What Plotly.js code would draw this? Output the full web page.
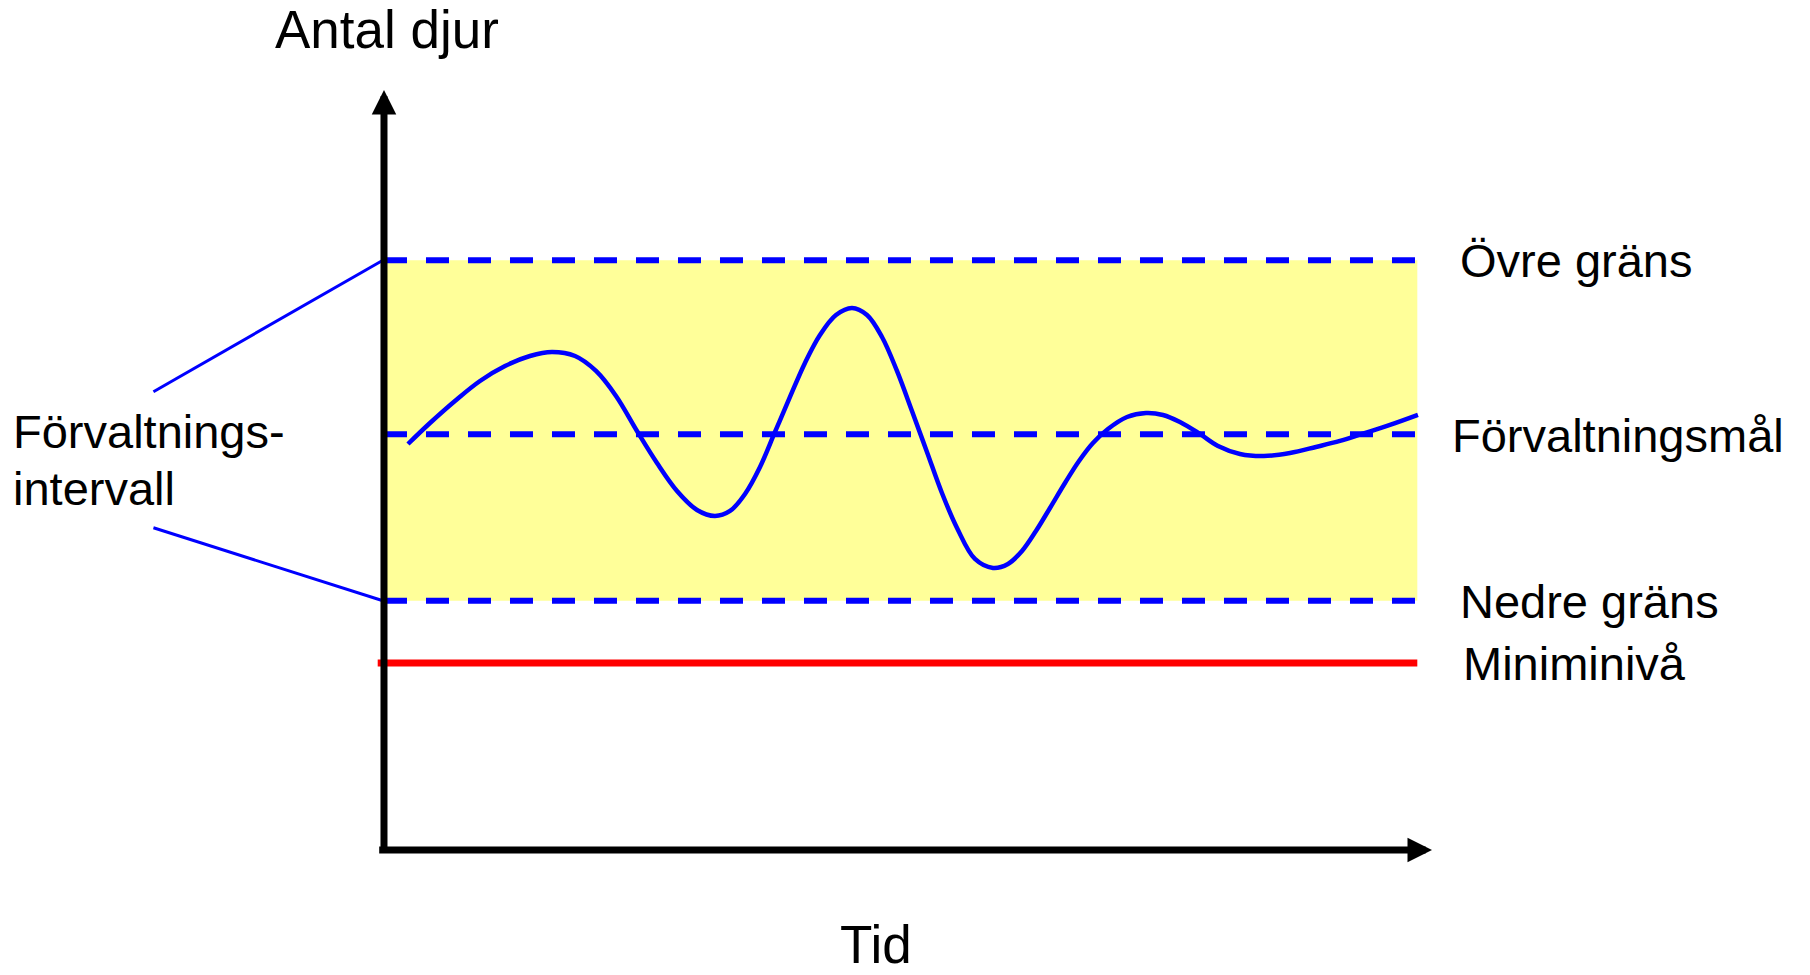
<!DOCTYPE html>
<html>
<head>
<meta charset="utf-8">
<script src="https://cdn.plot.ly/plotly-3.0.1.min.js"></script>
<style>
  html, body { margin: 0; padding: 0; background: #ffffff; }
  #chart { width: 1810px; height: 975px; }
</style>
</head>
<body>
<div id="chart"></div>
<script>
// ---- Data ----
const time = [2.29, 4.39, 6.77, 9.16, 11.55, 13.93, 16.03,
  18.23, 20.23, 22.14, 24.14, 26.05, 27.96, 29.87, 31.58,
  33.02, 34.45, 35.88, 37.31, 38.74, 40.17, 41.60, 43.13, 44.66,
  46.09, 47.52, 48.95, 50.38, 51.81, 53.24, 54.68, 56.39, 58.11,
  59.54, 60.88, 62.21, 63.55, 64.98, 66.32, 67.65, 69.08, 70.90, 72.71,
  74.33, 75.95, 77.86, 79.58, 81.68, 83.97,
  86.45, 88.93, 91.22, 93.32, 95.99, 98.66];
const antalDjur = [53.42, 56.18, 59.08, 61.71, 63.68, 65.00, 65.53,
  65.00, 63.03, 59.74, 55.13, 50.92, 47.24, 44.74, 43.95,
  44.61, 46.84, 50.39, 55.00, 59.61, 64.08, 67.76, 70.39, 71.32,
  70.39, 67.50, 63.03, 57.76, 52.37, 46.97, 42.37, 38.29, 37.11,
  37.63, 39.34, 41.97, 45.00, 48.29, 51.18, 53.55, 55.39, 56.97, 57.50,
  57.24, 56.32, 54.74, 53.16, 52.11, 51.84,
  52.24, 53.03, 53.82, 54.74, 55.92, 57.24];

const ovreGrans = 77.6;          // Övre gräns
const forvaltningsmal = 54.7;    // Förvaltningsmål
const nedreGrans = 32.8;         // Nedre gräns
const miniminiva = 24.6;         // Miniminivå

const periodStart = 0;
const periodEnd = 98.6;
const axisMax = 100;

const levelLabels = ["Övre gräns", "Förvaltningsmål", "Nedre gräns", "Miniminivå"];
const levelValues = [ovreGrans, forvaltningsmal, nedreGrans, miniminiva];
const intervalLabel = ["Förvaltnings-", "intervall"];
const yTitle = "Antal djur";
const xTitle = "Tid";

// ---- Styles ----
const BLUE = "#0000ff";
const RED = "#ff0000";
const YELLOW = "#ffff99";
const FONT = "Liberation Sans, Arial, sans-serif";

const traces = [];

// Yellow management interval band
traces.push({
  x: [periodStart, periodEnd, periodEnd, periodStart, periodStart],
  y: [nedreGrans, nedreGrans, ovreGrans, ovreGrans, nedreGrans],
  mode: "lines", fill: "toself", fillcolor: YELLOW,
  line: { width: 0, color: YELLOW }, hoverinfo: "skip", showlegend: false
});

// Dashed level lines
[ovreGrans, forvaltningsmal, nedreGrans].forEach(v => {
  traces.push({
    x: [periodStart, periodEnd], y: [v, v], mode: "lines",
    line: { color: BLUE, width: 6, dash: "23px,19px" },
    hoverinfo: "skip", showlegend: false
  });
});

// Red minimum level
traces.push({
  x: [periodStart - 0.6, periodEnd], y: [miniminiva, miniminiva], mode: "lines",
  line: { color: RED, width: 7 }, hoverinfo: "skip", showlegend: false
});

// Population curve
traces.push({
  x: time, y: antalDjur, mode: "lines",
  line: { color: BLUE, width: 4.5, shape: "spline", smoothing: 1 },
  hoverinfo: "skip", showlegend: false
});

// Connector lines from "Förvaltningsintervall" label
const labelEdgeX = -22.0;
traces.push({
  x: [labelEdgeX, periodStart - 0.1], y: [60.3, ovreGrans], mode: "lines",
  line: { color: BLUE, width: 3 }, hoverinfo: "skip", showlegend: false
});
traces.push({
  x: [labelEdgeX, periodStart - 0.1], y: [42.4, nedreGrans], mode: "lines",
  line: { color: BLUE, width: 3 }, hoverinfo: "skip", showlegend: false
});

const annotations = [];

// Axis arrows
annotations.push({
  x: 0, y: axisMax, ax: 0, ay: -0.5, xref: "x", yref: "y", axref: "x", ayref: "y",
  showarrow: true, arrowhead: 2, arrowsize: 0.7, arrowwidth: 7, arrowcolor: "#000000",
  standoff: 0, text: ""
});
annotations.push({
  x: axisMax, y: 0, ax: -0.6, ay: 0, xref: "x", yref: "y", axref: "x", ayref: "y",
  showarrow: true, arrowhead: 2, arrowsize: 0.7, arrowwidth: 7, arrowcolor: "#000000",
  standoff: 0, text: ""
});

// Axis titles
annotations.push({
  x: 0.3, y: 107.95, xref: "x", yref: "y", text: yTitle, showarrow: false,
  xanchor: "center", yanchor: "middle", font: { family: FONT, size: 53, color: "#000" }
});
annotations.push({
  x: 46.95, y: -12.4, xref: "x", yref: "y", text: xTitle, showarrow: false,
  xanchor: "center", yanchor: "middle", font: { family: FONT, size: 53, color: "#000" }
});

// Level labels on the right
const labelX = [102.5, 101.7, 102.5, 102.8];
levelLabels.forEach((t, i) => {
  annotations.push({
    x: labelX[i], y: levelValues[i] - 0.1, xref: "x", yref: "y", text: t, showarrow: false,
    xanchor: "left", yanchor: "middle", font: { family: FONT, size: 47, color: "#000" }
  });
});

// Left label (two lines)
annotations.push({
  x: -35.6, y: 55.0, xref: "x", yref: "y", text: intervalLabel[0], showarrow: false,
  xanchor: "left", yanchor: "middle", font: { family: FONT, size: 47, color: "#000" }
});
annotations.push({
  x: -35.6, y: 47.5, xref: "x", yref: "y", text: intervalLabel[1], showarrow: false,
  xanchor: "left", yanchor: "middle", font: { family: FONT, size: 47, color: "#000" }
});

const layout = {
  width: 1810, height: 975, autosize: false,
  margin: { l: 0, r: 0, t: 0, b: 0, pad: 0 },
  paper_bgcolor: "#ffffff", plot_bgcolor: "#ffffff",
  xaxis: { range: [-36.64, 136.07], visible: false, fixedrange: true },
  yaxis: { range: [-16.45, 111.84], visible: false, fixedrange: true },
  showlegend: false, hovermode: false,
  annotations: annotations
};

Plotly.newPlot("chart", traces, layout, { displayModeBar: false, staticPlot: true });
</script>
</body>
</html>
